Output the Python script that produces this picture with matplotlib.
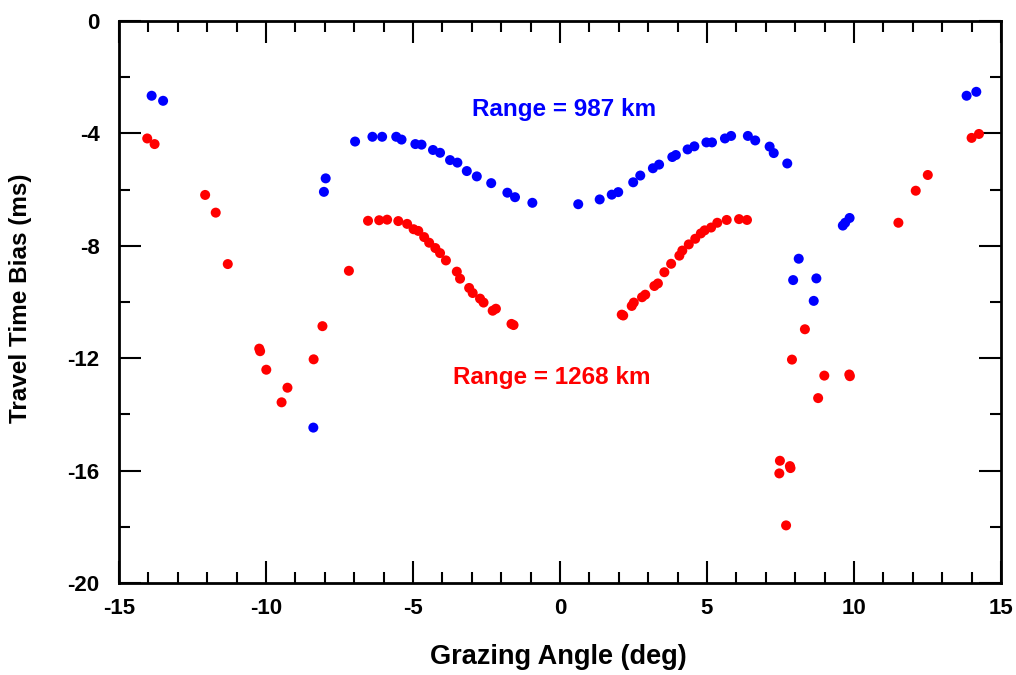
import matplotlib
matplotlib.use("Agg")
import matplotlib.pyplot as plt
from matplotlib.ticker import MultipleLocator

plt.rcParams['font.family'] = ['Liberation Sans', 'DejaVu Sans']
plt.rcParams['font.weight'] = 'bold'
plt.rcParams['axes.unicode_minus'] = False

# Range = 987 km
blue_x = [-13.89, -13.50, -8.39, -8.03, -7.97, -6.97, -6.38, -6.05, -5.57, -5.39,
          -4.92, -4.71, -4.32, -4.08, -3.74, -3.49, -3.17, -2.83, -2.34, -1.79,
          -1.53, -0.94, 0.62, 1.35, 1.76, 1.98, 2.49, 2.73, 3.16, 3.37,
          3.82, 3.94, 4.34, 4.57, 4.98, 5.17, 5.61, 5.82, 6.39, 6.64,
          7.13, 7.27, 7.73, 7.93, 8.12, 8.63, 8.72, 9.62, 9.70, 9.85,
          13.83, 14.16]
blue_y = [-2.66, -2.84, -14.47, -6.08, -5.60, -4.29, -4.12, -4.12, -4.12, -4.22,
          -4.38, -4.40, -4.59, -4.69, -4.95, -5.04, -5.34, -5.53, -5.77, -6.11,
          -6.27, -6.47, -6.52, -6.35, -6.18, -6.09, -5.74, -5.50, -5.24, -5.11,
          -4.84, -4.77, -4.57, -4.46, -4.32, -4.32, -4.18, -4.09, -4.09, -4.25,
          -4.47, -4.70, -5.07, -9.22, -8.46, -9.96, -9.16, -7.28, -7.18, -7.01,
          -2.66, -2.52]

# Range = 1268 km
red_x = [-14.04, -13.79, -12.07, -11.71, -11.30, -10.23, -10.20, -9.99, -9.47, -9.27,
         -8.38, -8.08, -7.18, -6.53, -6.15, -5.88, -5.50, -5.20, -4.98, -4.82,
         -4.62, -4.45, -4.24, -4.08, -3.88, -3.51, -3.40, -3.09, -2.97, -2.72,
         -2.60, -2.29, -2.18, -1.65, -1.58,
         2.10, 2.15, 2.44, 2.51, 2.79, 2.90, 3.21, 3.33, 3.55, 3.78,
         4.06, 4.16, 4.38, 4.60, 4.79, 4.92, 5.14, 5.35, 5.67, 6.09,
         6.36, 7.46, 7.48, 7.69, 7.82, 7.84, 7.89, 8.33, 8.78, 8.99,
         9.84, 9.86, 11.51, 12.10, 12.51, 14.00, 14.25]
red_y = [-4.18, -4.38, -6.19, -6.82, -8.65, -11.66, -11.75, -12.41, -13.57, -13.05,
         -12.04, -10.86, -8.89, -7.11, -7.09, -7.07, -7.12, -7.22, -7.41, -7.47,
         -7.69, -7.89, -8.08, -8.26, -8.52, -8.92, -9.17, -9.50, -9.68, -9.88,
         -10.02, -10.31, -10.24, -10.78, -10.82,
         -10.45, -10.48, -10.14, -10.02, -9.83, -9.74, -9.43, -9.34, -8.94, -8.64,
         -8.35, -8.17, -7.95, -7.75, -7.56, -7.45, -7.35, -7.18, -7.08, -7.05,
         -7.08, -16.10, -15.65, -17.95, -15.84, -15.91, -12.05, -10.97, -13.42, -12.62,
         -12.58, -12.64, -7.18, -6.04, -5.48, -4.16, -4.02]

fig = plt.figure(figsize=(10.16, 6.75), dpi=100)
ax = fig.add_axes([119 / 1016, 92 / 675, 882 / 1016, 562 / 675])

ax.scatter(blue_x, blue_y, s=52, color='#0000ff', edgecolors='none', zorder=3, clip_on=False)
ax.scatter(red_x, red_y, s=52, color='#ff0000', edgecolors='none', zorder=3, clip_on=False)

ax.text(0.14, -3.15, 'Range = 987 km', color='#0000ff', fontsize=17.5,
        fontweight='bold', ha='center', va='center')
ax.text(-0.29, -12.7, 'Range = 1268 km', color='#ff0000', fontsize=17.5,
        fontweight='bold', ha='center', va='center')

ax.set_xlim(-15, 15)
ax.set_ylim(-20, 0)
ax.xaxis.set_major_locator(MultipleLocator(5))
ax.xaxis.set_minor_locator(MultipleLocator(1))
ax.yaxis.set_major_locator(MultipleLocator(4))
ax.yaxis.set_minor_locator(MultipleLocator(2))
ax.tick_params(which='both', direction='in', top=True, right=True, width=1.5)
ax.tick_params(which='major', length=16, labelsize=16)
ax.tick_params(which='minor', length=8)
ax.tick_params(axis='x', which='major', pad=11)
ax.tick_params(axis='y', which='major', pad=14)
for lab in ax.get_xticklabels() + ax.get_yticklabels():
    lab.set_fontweight('bold')
for sp in ax.spines.values():
    sp.set_linewidth(2)

ax.set_xlabel('Grazing Angle (deg)', fontsize=19.5, fontweight='bold')
ax.set_ylabel('Travel Time Bias (ms)', fontsize=17.5, fontweight='bold')
ax.xaxis.set_label_coords(0.498, -0.108)
ax.yaxis.set_label_coords(-0.099, 0.507)

fig.savefig('out.png', dpi=100)
